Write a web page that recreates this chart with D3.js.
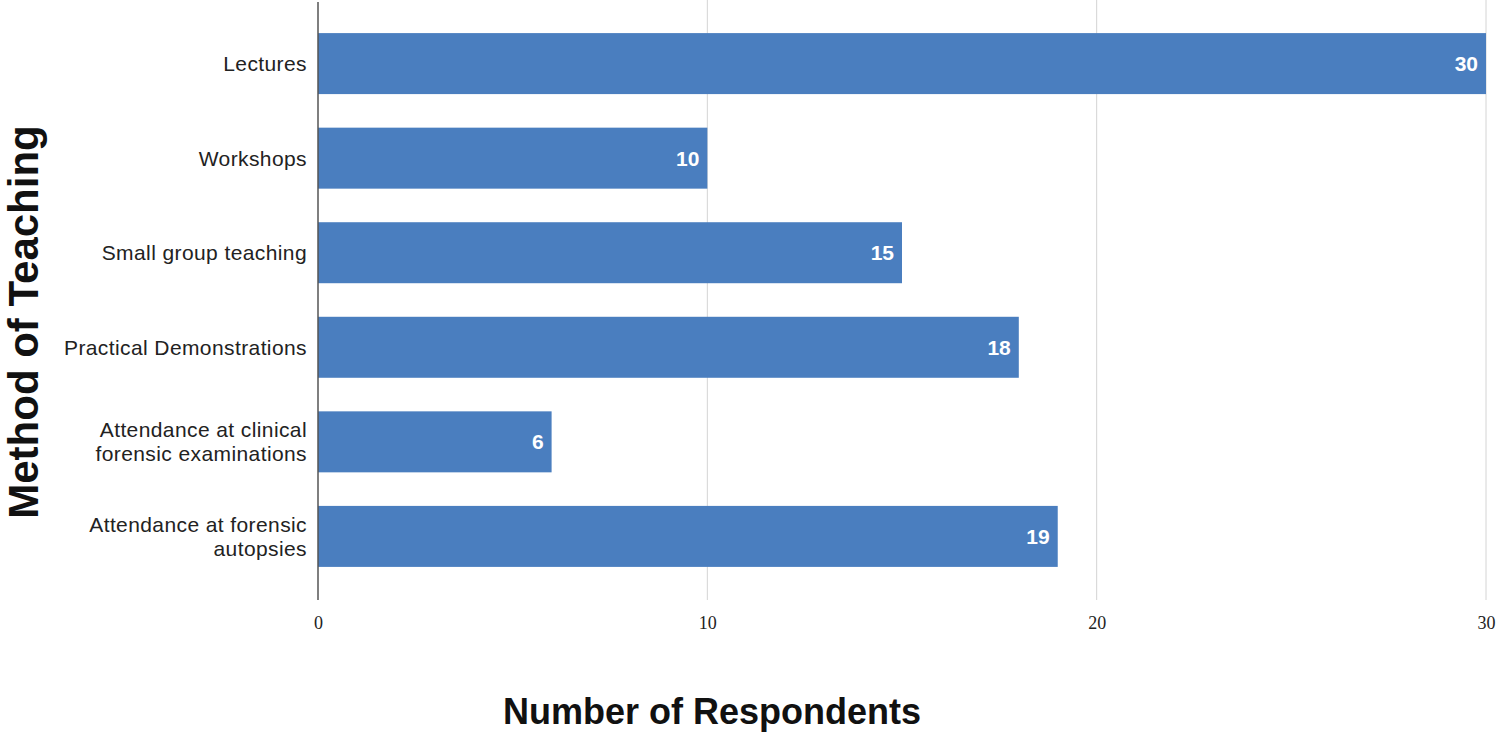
<!DOCTYPE html>
<html><head><meta charset="utf-8">
<script src="https://cdn.jsdelivr.net/npm/d3@7"></script>
<style>body{margin:0;background:#fff}</style>
</head><body>
<svg id="c" width="1499" height="736"></svg>
<script>
const categories = ["Lectures","Workshops","Small group teaching","Practical Demonstrations","Attendance at clinical forensic examinations","Attendance at forensic autopsies"];
const categoryLines = [["Lectures"],["Workshops"],["Small group teaching"],["Practical Demonstrations"],["Attendance at clinical","forensic examinations"],["Attendance at forensic","autopsies"]];
const values = [30,10,15,18,6,19];
const ticks = [0,10,20,30];

const svg = d3.select("#c");
const x = d3.scaleLinear().domain([0,30]).range([318,1486]);
const y = d3.scaleBand().domain(categories).range([0,600]).paddingInner(0.355).paddingOuter(0.35);

// gridlines
svg.append("g").selectAll("line").data(ticks.slice(1)).join("line")
  .attr("x1",d=>x(d)).attr("x2",d=>x(d)).attr("y1",0).attr("y2",600)
  .attr("stroke","#d4d4d4").attr("stroke-width",1);

// bars
svg.append("g").selectAll("rect").data(values).join("rect")
  .attr("x",x(0)).attr("y",(d,i)=>y(categories[i]))
  .attr("width",d=>x(d)-x(0)).attr("height",y.bandwidth())
  .attr("fill","#4a7ebf");

// value labels
svg.append("g").selectAll("text").data(values).join("text")
  .attr("x",d=>x(d)-8).attr("y",(d,i)=>y(categories[i])+y.bandwidth()/2)
  .attr("dy","0.36em").attr("text-anchor","end")
  .attr("fill","#fff").attr("font-family","Liberation Sans, Arial, sans-serif")
  .attr("font-weight","bold").attr("font-size",21).text(d=>d);

// axis line
svg.append("line").attr("x1",x(0)).attr("x2",x(0)).attr("y1",2).attr("y2",600)
  .attr("stroke","#555").attr("stroke-width",1.5);

// category labels
const cl = svg.append("g");
categories.forEach((c,i)=>{
  const lines = categoryLines[i];
  const cy = y(c)+y.bandwidth()/2;
  const lh = 24;
  const t = cl.append("text").attr("text-anchor","end")
    .attr("font-family","Liberation Sans, Arial, sans-serif").attr("font-size",21).attr("fill","#222")
    .attr("letter-spacing",0.4);
  lines.forEach((ln,j)=>{
    t.append("tspan").attr("x",307).attr("y",cy+(j-(lines.length-1)/2)*lh).attr("dy","0.35em").text(ln);
  });
});

// x tick labels
const xAxis = d3.axisBottom(x).tickValues(ticks).tickSize(0).tickPadding(0);
const gx = svg.append("g").attr("transform","translate(0,616)").call(xAxis);
gx.select(".domain").remove();
gx.selectAll("text").attr("font-family","Liberation Serif, Times New Roman, serif")
  .attr("font-size",18).attr("fill","#222");

// axis titles
svg.append("text").attr("x",712).attr("y",724).attr("text-anchor","middle")
  .attr("font-family","Liberation Sans, Arial, sans-serif").attr("font-weight","bold")
  .attr("font-size",36).attr("fill","#111").text("Number of Respondents");
svg.append("text").attr("transform","translate(38,322) rotate(-90)").attr("text-anchor","middle")
  .attr("font-family","Liberation Sans, Arial, sans-serif").attr("font-weight","bold")
  .attr("font-size",42).attr("fill","#111").text("Method of Teaching");
</script>
</body></html>
